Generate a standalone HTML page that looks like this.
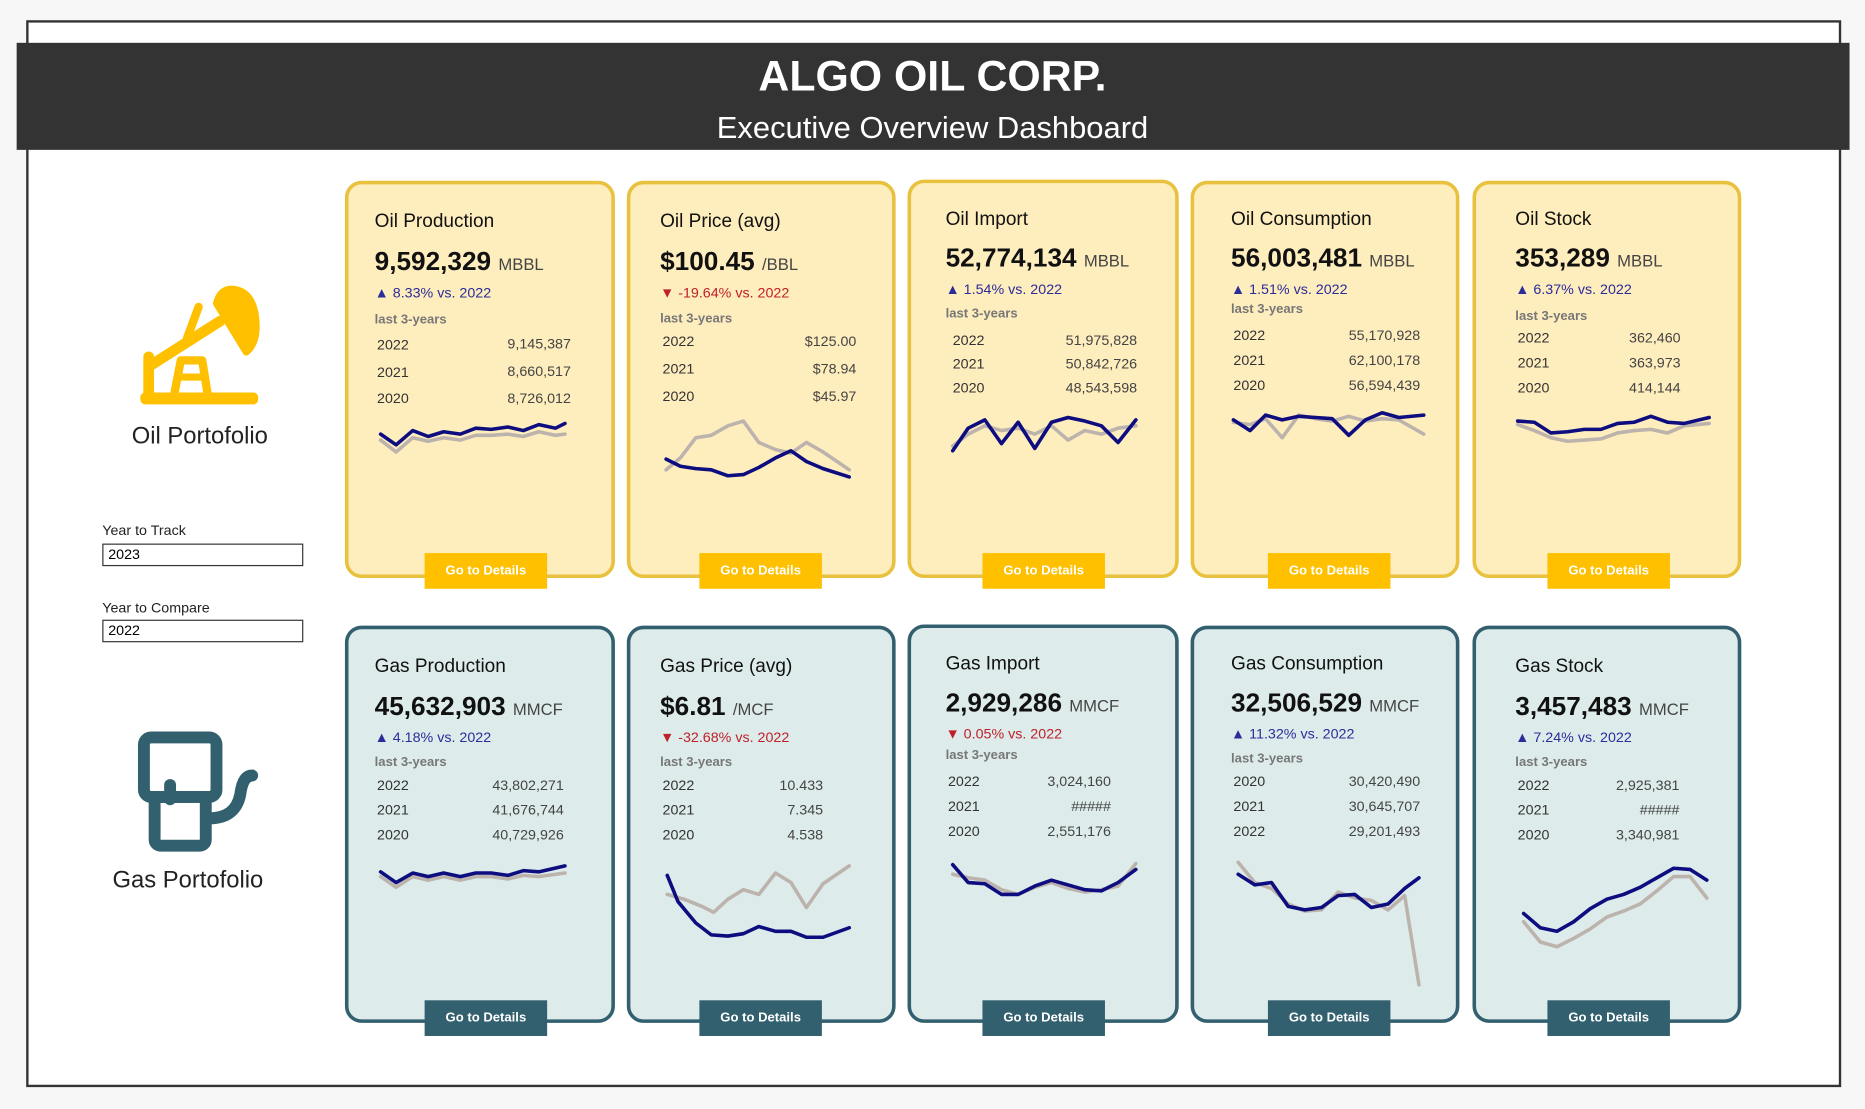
<!DOCTYPE html>
<html><head><meta charset="utf-8"><style>
html,body{margin:0;padding:0;background:#f7f7f7;}
body{width:1865px;height:1109px;overflow:hidden;position:relative;font-family:"Liberation Sans",sans-serif;}
#w{position:absolute;left:0;top:0;width:1568px;height:932px;transform:scale(1.18941);transform-origin:0 0;}
.a{position:absolute;white-space:nowrap;line-height:1;}
.card{position:absolute;border-radius:14px;box-sizing:border-box;}
.oil{background:#feedbd;border:3px solid #e8c23e;}
.gas{background:#ddeceb;border:3px solid #33606f;}
.btn{position:absolute;width:103px;height:30px;color:#fff;font-weight:bold;font-size:11px;text-align:center;line-height:31px;}
.bo{background:#ffc000;}.bg{background:#33606f;}
.t{font-size:16px;color:#111;}
.v{font-size:22px;font-weight:bold;color:#111;}
.v span{font-size:14px;font-weight:normal;color:#444;}
.up{font-size:12px;color:#2c2c9a;}
.dn{font-size:12px;color:#c0202a;}
.l{font-size:11px;color:#777;font-weight:bold;}
.y{font-size:12px;color:#333;}
.n{font-size:12px;color:#444;text-align:right;width:120px;}
</style></head><body><div id="w">
<div class="a" style="left:22px;top:17px;width:1522px;height:893px;border:2px solid #333;background:#fff;"></div>
<div class="a" style="left:14px;top:36px;width:1541px;height:90px;background:#333;"></div>
<div class="a" style="left:0;width:1568px;text-align:center;top:46px;font-size:36px;font-weight:bold;color:#fff;">ALGO OIL CORP.</div>
<div class="a" style="left:0;width:1568px;text-align:center;top:94px;font-size:26px;color:#fff;">Executive Overview Dashboard</div>

<!-- left panel -->
<div class="a" style="left:68px;width:200px;text-align:center;top:357px;font-size:20px;color:#222;">Oil Portofolio</div>
<div class="a" style="left:58px;width:200px;text-align:center;top:730px;font-size:20px;color:#222;">Gas Portofolio</div>
<div class="a" style="left:86px;top:440px;font-size:12px;color:#222;">Year to Track</div>
<div class="a" style="left:86px;top:457px;width:169px;height:19px;border:1px solid #333;background:#fff;font-size:12px;line-height:16px;padding-left:4px;box-sizing:border-box;">2023</div>
<div class="a" style="left:86px;top:505px;font-size:12px;color:#222;">Year to Compare</div>
<div class="a" style="left:86px;top:521px;width:169px;height:19px;border:1px solid #333;background:#fff;font-size:12px;line-height:16px;padding-left:4px;box-sizing:border-box;">2022</div>

<!-- cards -->
<div class="card oil" style="left:290px;top:152px;width:227px;height:334px;"></div>
<div class="card oil" style="left:527px;top:152px;width:226px;height:334px;"></div>
<div class="card oil" style="left:763px;top:151px;width:228px;height:335px;"></div>
<div class="card oil" style="left:1001px;top:152px;width:226px;height:334px;"></div>
<div class="card oil" style="left:1238px;top:152px;width:226px;height:334px;"></div>
<div class="card gas" style="left:290px;top:526px;width:227px;height:334px;"></div>
<div class="card gas" style="left:527px;top:526px;width:226px;height:334px;"></div>
<div class="card gas" style="left:763px;top:525px;width:228px;height:335px;"></div>
<div class="card gas" style="left:1001px;top:526px;width:226px;height:334px;"></div>
<div class="card gas" style="left:1238px;top:526px;width:226px;height:334px;"></div>

<div class="btn bo" style="left:357px;top:465px;">Go to Details</div>
<div class="btn bo" style="left:588px;top:465px;">Go to Details</div>
<div class="btn bo" style="left:826px;top:465px;">Go to Details</div>
<div class="btn bo" style="left:1066px;top:465px;">Go to Details</div>
<div class="btn bo" style="left:1301px;top:465px;">Go to Details</div>
<div class="btn bg" style="left:357px;top:841px;">Go to Details</div>
<div class="btn bg" style="left:588px;top:841px;">Go to Details</div>
<div class="btn bg" style="left:826px;top:841px;">Go to Details</div>
<div class="btn bg" style="left:1066px;top:841px;">Go to Details</div>
<div class="btn bg" style="left:1301px;top:841px;">Go to Details</div>

<!-- Oil Production -->
<div class="a t" style="left:315px;top:179px;">Oil Production</div>
<div class="a v" style="left:315px;top:209px;">9,592,329 <span>MBBL</span></div>
<div class="a up" style="left:315px;top:240px;">▲ 8.33% vs. 2022</div>
<div class="a l" style="left:315px;top:264px;">last 3-years</div>
<div class="a y" style="left:317px;top:284px;">2022</div><div class="a n" style="left:360px;top:283px;">9,145,387</div>
<div class="a y" style="left:317px;top:307px;">2021</div><div class="a n" style="left:360px;top:306px;">8,660,517</div>
<div class="a y" style="left:317px;top:329px;">2020</div><div class="a n" style="left:360px;top:329px;">8,726,012</div>
<!-- Oil Price -->
<div class="a t" style="left:555px;top:179px;">Oil Price (avg)</div>
<div class="a v" style="left:555px;top:209px;">$100.45 <span>/BBL</span></div>
<div class="a dn" style="left:555px;top:240px;">▼ -19.64% vs. 2022</div>
<div class="a l" style="left:555px;top:263px;">last 3-years</div>
<div class="a y" style="left:557px;top:281px;">2022</div><div class="a n" style="left:600px;top:281px;">$125.00</div>
<div class="a y" style="left:557px;top:304px;">2021</div><div class="a n" style="left:600px;top:304px;">$78.94</div>
<div class="a y" style="left:557px;top:327px;">2020</div><div class="a n" style="left:600px;top:327px;">$45.97</div>
<!-- Oil Import -->
<div class="a t" style="left:795px;top:177px;">Oil Import</div>
<div class="a v" style="left:795px;top:206px;">52,774,134 <span>MBBL</span></div>
<div class="a up" style="left:795px;top:237px;">▲ 1.54% vs. 2022</div>
<div class="a l" style="left:795px;top:259px;">last 3-years</div>
<div class="a y" style="left:801px;top:280px;">2022</div><div class="a n" style="left:836px;top:280px;">51,975,828</div>
<div class="a y" style="left:801px;top:300px;">2021</div><div class="a n" style="left:836px;top:300px;">50,842,726</div>
<div class="a y" style="left:801px;top:320px;">2020</div><div class="a n" style="left:836px;top:320px;">48,543,598</div>
<!-- Oil Consumption -->
<div class="a t" style="left:1035px;top:177px;">Oil Consumption</div>
<div class="a v" style="left:1035px;top:206px;">56,003,481 <span>MBBL</span></div>
<div class="a up" style="left:1035px;top:237px;">▲ 1.51% vs. 2022</div>
<div class="a l" style="left:1035px;top:255px;">last 3-years</div>
<div class="a y" style="left:1037px;top:276px;">2022</div><div class="a n" style="left:1074px;top:276px;">55,170,928</div>
<div class="a y" style="left:1037px;top:297px;">2021</div><div class="a n" style="left:1074px;top:297px;">62,100,178</div>
<div class="a y" style="left:1037px;top:318px;">2020</div><div class="a n" style="left:1074px;top:318px;">56,594,439</div>
<!-- Oil Stock -->
<div class="a t" style="left:1274px;top:177px;">Oil Stock</div>
<div class="a v" style="left:1274px;top:206px;">353,289 <span>MBBL</span></div>
<div class="a up" style="left:1274px;top:237px;">▲ 6.37% vs. 2022</div>
<div class="a l" style="left:1274px;top:261px;">last 3-years</div>
<div class="a y" style="left:1276px;top:278px;">2022</div><div class="a n" style="left:1293px;top:278px;">362,460</div>
<div class="a y" style="left:1276px;top:299px;">2021</div><div class="a n" style="left:1293px;top:299px;">363,973</div>
<div class="a y" style="left:1276px;top:320px;">2020</div><div class="a n" style="left:1293px;top:320px;">414,144</div>

<!-- Gas Production -->
<div class="a t" style="left:315px;top:553px;">Gas Production</div>
<div class="a v" style="left:315px;top:583px;">45,632,903 <span>MMCF</span></div>
<div class="a up" style="left:315px;top:614px;">▲ 4.18% vs. 2022</div>
<div class="a l" style="left:315px;top:636px;">last 3-years</div>
<div class="a y" style="left:317px;top:654px;">2022</div><div class="a n" style="left:354px;top:654px;">43,802,271</div>
<div class="a y" style="left:317px;top:675px;">2021</div><div class="a n" style="left:354px;top:675px;">41,676,744</div>
<div class="a y" style="left:317px;top:696px;">2020</div><div class="a n" style="left:354px;top:696px;">40,729,926</div>
<!-- Gas Price -->
<div class="a t" style="left:555px;top:553px;">Gas Price (avg)</div>
<div class="a v" style="left:555px;top:583px;">$6.81 <span>/MCF</span></div>
<div class="a dn" style="left:555px;top:614px;">▼ -32.68% vs. 2022</div>
<div class="a l" style="left:555px;top:636px;">last 3-years</div>
<div class="a y" style="left:557px;top:654px;">2022</div><div class="a n" style="left:572px;top:654px;">10.433</div>
<div class="a y" style="left:557px;top:675px;">2021</div><div class="a n" style="left:572px;top:675px;">7.345</div>
<div class="a y" style="left:557px;top:696px;">2020</div><div class="a n" style="left:572px;top:696px;">4.538</div>
<!-- Gas Import -->
<div class="a t" style="left:795px;top:551px;">Gas Import</div>
<div class="a v" style="left:795px;top:580px;">2,929,286 <span>MMCF</span></div>
<div class="a dn" style="left:795px;top:611px;">▼ 0.05% vs. 2022</div>
<div class="a l" style="left:795px;top:630px;">last 3-years</div>
<div class="a y" style="left:797px;top:651px;">2022</div><div class="a n" style="left:814px;top:651px;">3,024,160</div>
<div class="a y" style="left:797px;top:672px;">2021</div><div class="a n" style="left:814px;top:672px;">#####</div>
<div class="a y" style="left:797px;top:693px;">2020</div><div class="a n" style="left:814px;top:693px;">2,551,176</div>
<!-- Gas Consumption -->
<div class="a t" style="left:1035px;top:551px;">Gas Consumption</div>
<div class="a v" style="left:1035px;top:580px;">32,506,529 <span>MMCF</span></div>
<div class="a up" style="left:1035px;top:611px;">▲ 11.32% vs. 2022</div>
<div class="a l" style="left:1035px;top:633px;">last 3-years</div>
<div class="a y" style="left:1037px;top:651px;">2020</div><div class="a n" style="left:1074px;top:651px;">30,420,490</div>
<div class="a y" style="left:1037px;top:672px;">2021</div><div class="a n" style="left:1074px;top:672px;">30,645,707</div>
<div class="a y" style="left:1037px;top:693px;">2022</div><div class="a n" style="left:1074px;top:693px;">29,201,493</div>
<!-- Gas Stock -->
<div class="a t" style="left:1274px;top:553px;">Gas Stock</div>
<div class="a v" style="left:1274px;top:583px;">3,457,483 <span>MMCF</span></div>
<div class="a up" style="left:1274px;top:614px;">▲ 7.24% vs. 2022</div>
<div class="a l" style="left:1274px;top:636px;">last 3-years</div>
<div class="a y" style="left:1276px;top:654px;">2022</div><div class="a n" style="left:1292px;top:654px;">2,925,381</div>
<div class="a y" style="left:1276px;top:675px;">2021</div><div class="a n" style="left:1292px;top:675px;">#####</div>
<div class="a y" style="left:1276px;top:696px;">2020</div><div class="a n" style="left:1292px;top:696px;">3,340,981</div>

<svg class="a" style="left:0;top:0;" width="1568" height="932" viewBox="0 0 1568 932">
<g fill="none" stroke-linejoin="round" stroke-linecap="round" stroke-width="3">
<g stroke="#bdb3ad">
<polyline points="320,370 333,380 347,368 360,371 373,368 387,370 400,366 413,366 427,365 440,367 453,363 467,366 475,365"/>
<polyline points="560,395 572,385 585,368 598,366 612,358 625,354 638,372 652,378 665,381 678,372 692,380 714,395"/>
<polyline points="801,375 814,365 828,358 842,362 856,360 870,365 884,358 898,370 912,362 926,365 940,360 955,358"/>
<polyline points="1037,355 1051,357 1064,352 1078,368 1092,349 1106,352 1120,354 1134,350 1148,354 1162,352 1176,353 1197,365"/>
<polyline points="1276,357 1290,362 1304,368 1318,371 1332,370 1346,369 1360,364 1374,362 1388,361 1402,364 1416,358 1437,356"/>
<polyline points="320,737 333,746 347,737 360,740 373,737 387,740 400,737 413,737 427,739 440,736 453,737 475,734"/>
<polyline points="561,752 575,756 590,762 600,767 612,756 625,748 638,752 652,734 665,742 678,763 692,743 714,728"/>
<polyline points="801,735 814,738 828,740 842,748 856,752 870,746 884,742 898,747 912,750 926,748 940,745 955,726"/>
<polyline points="1041,725 1055,742 1069,747 1083,760 1097,766 1111,765 1125,750 1139,755 1153,757 1167,765 1181,753 1193,828"/>
<polyline points="1281,775 1295,792 1309,796 1323,789 1337,781 1351,771 1365,766 1379,760 1393,749 1407,737 1421,737 1435,755"/>
</g>
<g stroke="#0d0d80">
<polyline points="320,365 333,374 347,362 360,367 373,363 387,365 400,360 413,361 427,359 440,362 453,357 467,360 475,356"/>
<polyline points="560,386 572,392 585,394 598,395 612,400 625,399 638,393 652,385 665,379 678,388 692,394 714,401"/>
<polyline points="801,379 814,360 828,353 842,373 856,355 870,377 884,355 898,351 912,354 926,358 940,372 955,353"/>
<polyline points="1037,353 1051,362 1064,349 1078,353 1092,350 1106,351 1120,352 1134,366 1148,353 1162,347 1176,351 1197,349"/>
<polyline points="1276,354 1290,355 1304,364 1318,363 1332,361 1346,361 1360,356 1374,355 1388,350 1402,355 1416,356 1437,351"/>
<polyline points="320,733 333,742 347,734 360,737 373,734 387,737 400,734 413,734 427,736 440,732 453,733 475,728"/>
<polyline points="561,736 570,758 585,776 598,786 612,787 625,785 638,779 652,783 665,783 678,788 692,788 714,780"/>
<polyline points="801,727 814,742 828,743 842,752 856,752 870,745 884,740 898,744 912,748 926,749 940,742 955,731"/>
<polyline points="1041,735 1055,744 1069,742 1083,762 1097,765 1111,763 1125,753 1139,752 1153,763 1167,760 1181,747 1193,738"/>
<polyline points="1281,768 1295,780 1309,783 1323,775 1337,764 1351,756 1365,752 1379,746 1393,738 1407,730 1421,731 1435,740"/>
</g>
</g>
<!-- oil pumpjack -->
<g fill="#ffc000" stroke="#ffc000" stroke-linecap="round" stroke-linejoin="round">
<rect x="118" y="330" width="99" height="10" rx="4" stroke="none"/>
<line x1="125" y1="300" x2="125" y2="334" stroke-width="9"/>
<line x1="127" y1="307" x2="185" y2="270" stroke-width="9"/>
<path d="M146 334 L152 303 L170 303 L175 334" fill="none" stroke-width="7"/>
<line x1="150" y1="317" x2="172" y2="317" stroke-width="6"/>
<line x1="157" y1="285" x2="167" y2="258" stroke-width="7"/>
<path d="M182 255 Q186 240 200 244 Q213 248 215 268 Q217 288 207 296 Z" stroke-width="6"/>
</g>
<!-- gas pump -->
<g fill="none" stroke="#33606f" stroke-width="10" stroke-linecap="round" stroke-linejoin="round">
<rect x="121" y="620" width="61" height="50" rx="6"/>
<rect x="130" y="670" width="43" height="41" rx="5"/>
<line x1="143" y1="672" x2="143" y2="660"/>
<path d="M176 688 Q198 688 202 668 Q204 652 212 652"/>
</g>
</svg>
</div></body></html>
